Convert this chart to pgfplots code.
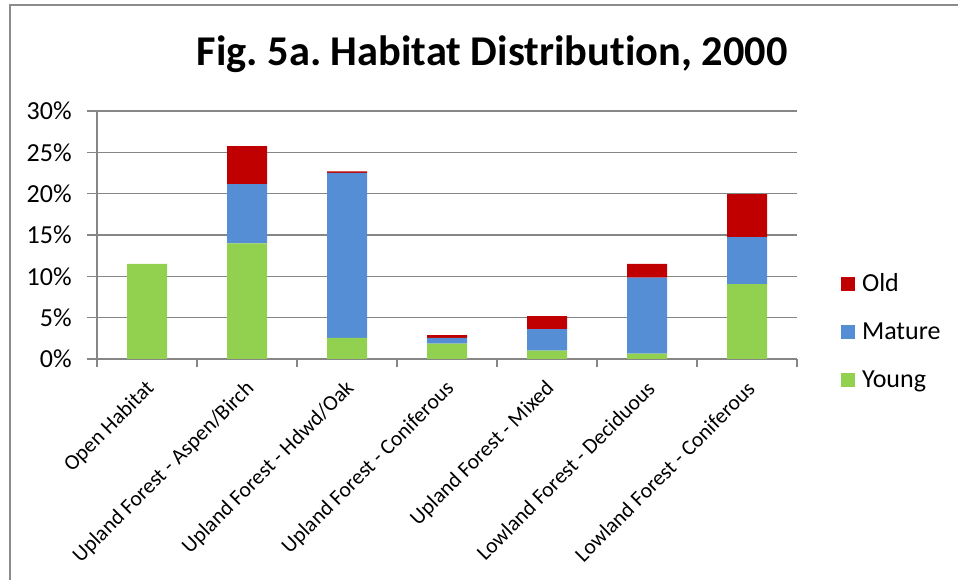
\documentclass[border=0pt]{standalone}
\usepackage{pgfplots}
\pgfplotsset{compat=1.18}
\usepackage{fontspec}
\setmainfont{Carlito}[Ligatures={NoCommon}]
\definecolor{cOld}{HTML}{C00000}
\definecolor{cMat}{HTML}{558ED5}
\definecolor{cYng}{HTML}{92D050}
\definecolor{gridc}{HTML}{868686}
\definecolor{framec}{HTML}{8C8C8C}
\begin{document}
\frenchspacing
\begin{tikzpicture}
\useasboundingbox (0,0) rectangle (718.5pt,435pt);
\fill[white] (0,0) rectangle (718.5pt,435pt);
\draw[framec, line width=1.1pt] (7.5pt,-5pt) -- (7.5pt,431.25pt) -- (725pt,431.25pt);
\node[anchor=base, font=\fontsize{31.8}{38}\selectfont\bfseries] at (369pt,385.5pt) {Fig. 5a. Habitat Distribution, 2000};
\begin{axis}[
  at={(72.75pt,165.75pt)}, anchor=south west,
  scale only axis, width=525pt, height=186pt,
  ybar stacked, bar width=30pt,
  xmin=-0.5, xmax=6.5, ymin=0, ymax=30,
  xtick={0,...,6},
  xticklabels={Open Habitat, Upland Forest - Aspen/Birch, Upland Forest - Hdwd/Oak, Upland Forest - Coniferous, Upland Forest - Mixed, Lowland Forest - Deciduous, Lowland Forest - Coniferous},
  minor xtick={-0.5,0.5,...,6.5},
  ytick={0,5,...,30},
  yticklabel={\pgfmathprintnumber{\tick}\%},
  /pgf/number format/assume math mode=true,
  tick align=outside,
  major x tick style={draw=none},
  minor tick length=6pt, major tick length=7.5pt,
  tick style={gridc, line width=1.1pt},
  axis lines*=left,
  axis line style={gridc, line width=1.1pt},
  ymajorgrids, major grid style={gridc, line width=1.1pt},
  yticklabel style={font=\fontsize{19.5}{23}\selectfont, xshift=-8pt},
  xticklabel style={font=\fontsize{16.2}{19}\selectfont, xshift=3pt, yshift=-12.25pt, rotate=45, anchor=east, inner sep=0pt},
  legend style={draw=none, fill=none, at={(axis description cs:1.063,0.111)}, anchor=west, inner sep=0pt, row sep=21.8pt, column sep=5pt, font=\fontsize{19.5}{23}\selectfont,
    nodes={inner sep=0pt, anchor=west}},
  legend cell align=left,
  legend image code/.code={\path[#1,draw=none] (0pt,-5.25pt) rectangle (10.5pt,5.25pt);},
  reverse legend,
  clip=false,
]
\addplot[fill=cYng, draw=none] coordinates {(0,11.5) (1,14.0) (2,2.55) (3,1.85) (4,1.0) (5,0.65) (6,9.05)};
\addplot[fill=cMat, draw=none] coordinates {(0,0) (1,7.15) (2,19.95) (3,0.7) (4,2.6) (5,9.2) (6,5.7)};
\addplot[fill=cOld, draw=none] coordinates {(0,0) (1,4.6) (2,0.2) (3,0.33) (4,1.6) (5,1.65) (6,5.2)};
\legend{Young, Mature, Old}
\end{axis}
\end{tikzpicture}
\end{document}
